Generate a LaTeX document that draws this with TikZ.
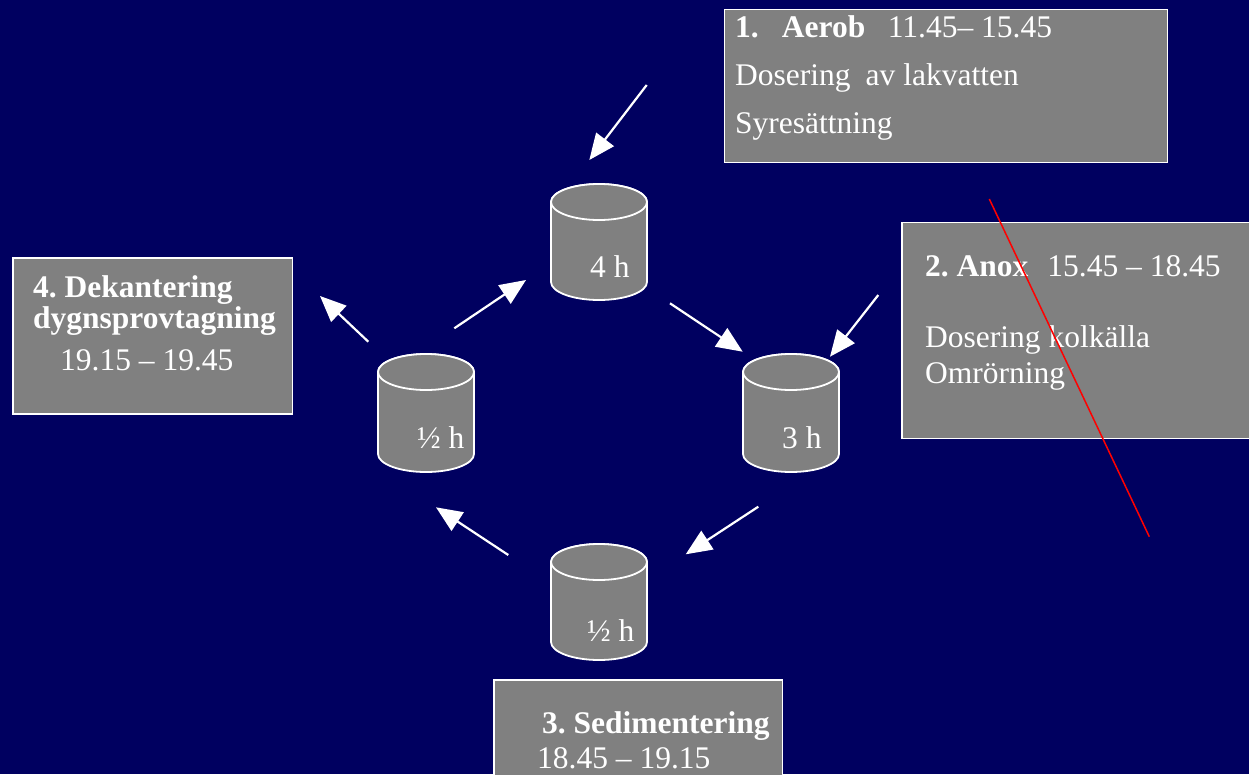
\documentclass[tikz,border=0pt]{standalone}
\usepackage{fontspec}
\setmainfont{Liberation Serif}
\usetikzlibrary{arrows.meta}
\definecolor{bg}{RGB}{0,0,96}
\definecolor{boxgray}{RGB}{128,128,128}
\frenchspacing
\newcommand\tankshape[3]{%
  \filldraw[cyl] (#1-48,#3) arc[start angle=180,end angle=360,x radius=48pt,y radius=18pt]
     -- (#1+48,#2) arc[start angle=0,end angle=180,x radius=48pt,y radius=18pt] -- cycle;
  \draw[cyl] (#1,#2) ellipse[x radius=48pt,y radius=18pt];
}
\begin{document}
\begin{tikzpicture}[x=1pt,y=-1pt,
  box/.style={fill=boxgray, draw=white, line width=1.5pt, inner sep=0pt, anchor=north west},
  txt/.style={text=white, anchor=base west, inner sep=0pt, font=\fontsize{31.5}{36}\selectfont},
  cyl/.style={fill=boxgray, draw=white, line width=1.8pt},
  flow/.style={draw=white, line width=2.2pt, -{Triangle[length=26pt,width=22pt]}},
  cut/.style={draw=red, line width=1.5pt}]
\fill[bg] (0,0) rectangle (1249,774);
\useasboundingbox (0,0) rectangle (1249,774);

% boxes
\node[box, minimum width=443pt, minimum height=153pt] (b1) at (723.5,8.5) {};
\node[box, minimum width=360pt, minimum height=216pt] (b2) at (901,221.5) {};
\node[box, minimum width=279.5pt, minimum height=156pt] (b4) at (12,257) {};
\node[box, minimum width=288.5pt, minimum height=120pt] (b3) at (493,679) {};

% tanks
\tankshape{599}{202}{282}
\tankshape{426}{372}{454}
\tankshape{791}{372}{454}
\tankshape{599}{562}{642}

% texts
\node[txt] (t1a) at (735,37) {\textbf{1.}\hspace{23pt}\textbf{Aerob}\hspace{22.6pt}11.45– 15.45};
\node[txt] (t1b) at (735,85) {Dosering\hspace{15pt}av lakvatten};
\node[txt] (t1c) at (735,133) {Syresättning};

\node[txt] (t2a) at (925,276) {\textbf{2. Anox}\hspace{19pt}15.45 – 18.45};
\node[txt] (t2b) at (925,347) {Dosering kolkälla};
\node[txt] (t2c) at (925,383) {Omrörning};

\node[txt] (t4a) at (33,297) {\textbf{4. Dekantering}};
\node[txt] (t4b) at (33,328) {\textbf{dygnsprovtagning}};
\node[txt] (t4c) at (60,370) {19.15 – 19.45};

\node[txt] (t3a) at (542,733) {\textbf{3. Sedimentering}};
\node[txt] (t3b) at (537,768) {18.45 – 19.15};

\node[txt] (c1) at (590,277) {4 h};
\node[txt] (c2) at (417,448) {½ h};
\node[txt] (c3) at (782,448) {3 h};
\node[txt] (c4) at (587,641) {½ h};

% arrows
\coordinate (a1s) at (646.7,85);   \coordinate (a1e) at (589.3,160);
\coordinate (a2s) at (454.3,328.3); \coordinate (a2e) at (526,280);
\coordinate (a3s) at (670,303.3);  \coordinate (a3e) at (742.7,351.7);
\coordinate (a4s) at (878.3,295);  \coordinate (a4e) at (830,356.7);
\coordinate (a5s) at (758.3,506.7); \coordinate (a5e) at (685.7,554.3);
\coordinate (a6s) at (508.3,555);  \coordinate (a6e) at (436,507.3);
\coordinate (a7s) at (368.3,341.7); \coordinate (a7e) at (320,296);
\foreach \i in {1,...,7} {\draw[flow] (a\i s) -- (a\i e);}

% red line
\coordinate (r1) at (989.3,199);
\coordinate (r2) at (1149.3,536.7);
\draw[cut] (r1) -- (r2);
\end{tikzpicture}
\end{document}
